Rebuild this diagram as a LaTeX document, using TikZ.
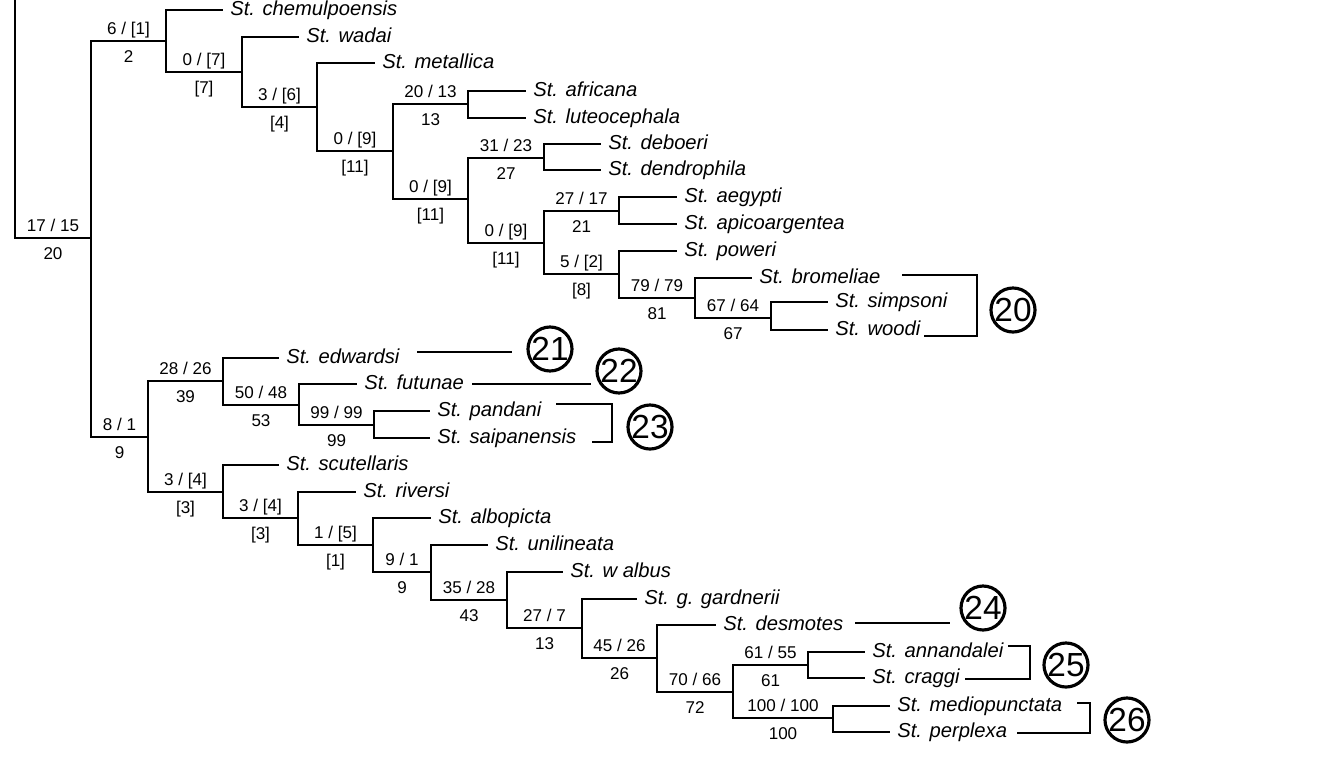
\documentclass[tikz,border=0pt]{standalone}
\usepackage{fontspec}
\setmainfont{Liberation Sans}
\usetikzlibrary{calc}

\tikzset{
  br/.style={line width=0.9pt},
  bar/.style={line width=1.4pt},
  sp/.style={anchor=west,inner xsep=1.4mm,inner ysep=0pt,
    font=\fontsize{11.5}{12}\selectfont\itshape,text height=8.2pt,text depth=2.4pt},
  lab/.style={anchor=base,inner sep=0pt,font=\fontsize{9.7}{11}\selectfont},
  clade/.style={circle,draw,line width=1.8pt,minimum size=8.8mm,inner sep=0pt,
    font=\fontsize{19}{20}\selectfont},
}
% support values on the branch from #1 into #2
\newcommand{\supp}[4]{%
  \path (#1 |- #2) -- coordinate[midway] (#2m) (#2);
  \node[lab] (#2u) at ([yshift=1.4mm]#2m) {#3};
  \node[lab] (#2d) at ([yshift=-4.2mm]#2m) {#4};}

\begin{document}
\begin{tikzpicture}[x=0.2mm,y=-0.2mm]
  \useasboundingbox (0,0) rectangle (1328,783);
  % --- internal nodes
  \coordinate (root) at (15,0);
  \coordinate (n1) at (91,238);
  \coordinate (nA) at (166,41);  \coordinate (nB) at (242,72);
  \coordinate (nC) at (317,107); \coordinate (nD) at (393,151);
  \coordinate (nE) at (468,104); \coordinate (nF) at (468,199);
  \coordinate (nG) at (544,158); \coordinate (nH) at (544,243);
  \coordinate (nI) at (619,211); \coordinate (nJ) at (619,274);
  \coordinate (nK) at (695,298); \coordinate (nL) at (771,318);
  \coordinate (nM) at (148,437); \coordinate (nN) at (223,381);
  \coordinate (nO) at (299,405); \coordinate (nP) at (374,425);
  \coordinate (nR) at (223,492); \coordinate (nS) at (298,518);
  \coordinate (nT) at (373,545); \coordinate (nU) at (431,572);
  \coordinate (nV) at (507,600); \coordinate (nW) at (582,628);
  \coordinate (nX) at (657,658); \coordinate (nY) at (733,692);
  \coordinate (nZ) at (808,665); \coordinate (nZZ) at (833,718);
  % --- species
  \node[sp] (chem) at (223,10) {St. chemulpoensis};
  \node[sp] (wada) at (299,37) {St. wadai};
  \node[sp] (meta) at (375,63) {St. metallica};
  \node[sp] (afri) at (526,91) {St. africana};
  \node[sp] (lute) at (526,118) {St. luteocephala};
  \node[sp] (debo) at (601,144) {St. deboeri};
  \node[sp] (dend) at (601,170) {St. dendrophila};
  \node[sp] (aegy) at (677,197) {St. aegypti};
  \node[sp] (apic) at (677,224) {St. apicoargentea};
  \node[sp] (powe) at (677,251) {St. poweri};
  \node[sp] (brom) at (752,278) {St. bromeliae};
  \node[sp] (simp) at (828,302) {St. simpsoni};
  \node[sp] (wood) at (828,330) {St. woodi};
  \node[sp] (edwa) at (279,358) {St. edwardsi};
  \node[sp] (futu) at (357,384) {St. futunae};
  \node[sp] (pand) at (430,411) {St. pandani};
  \node[sp] (saip) at (430,438) {St. saipanensis};
  \node[sp] (scut) at (279,465) {St. scutellaris};
  \node[sp] (rive) at (356,492) {St. riversi};
  \node[sp] (albo) at (431,518) {St. albopicta};
  \node[sp] (unil) at (488,545) {St. unilineata};
  \node[sp] (walb) at (563,572) {St. w albus};
  \node[sp] (gard) at (637,599) {St. g. gardnerii};
  \node[sp] (desm) at (716,625) {St. desmotes};
  \node[sp] (anna) at (865,652) {St. annandalei};
  \node[sp] (crag) at (865,678) {St. craggi};
  \node[sp] (medi) at (890,706) {St. mediopunctata};
  \node[sp] (perp) at (890,732) {St. perplexa};
  % --- branches
  \foreach \p/\c in {root/n1,n1/nA,n1/nM,
      nA/chem,nA/nB,nB/wada,nB/nC,nC/meta,nC/nD,nD/nE,nD/nF,nE/afri,nE/lute,
      nF/nG,nF/nH,nG/debo,nG/dend,nH/nI,nH/nJ,nI/aegy,nI/apic,nJ/powe,nJ/nK,
      nK/brom,nK/nL,nL/simp,nL/wood,
      nM/nN,nM/nR,nN/edwa,nN/nO,nO/futu,nO/nP,nP/pand,nP/saip,
      nR/scut,nR/nS,nS/rive,nS/nT,nT/albo,nT/nU,nU/unil,nU/nV,nV/walb,nV/nW,
      nW/gard,nW/nX,nX/desm,nX/nY,nY/nZ,nY/nZZ,nZ/anna,nZ/crag,nZZ/medi,nZZ/perp}
    \draw[br] (\p) |- (\c);
  % --- support values
  \supp{root}{n1}{17 / 15}{20}
  \supp{n1}{nA}{6 / [1]}{2}
  \supp{nA}{nB}{0 / [7]}{[7]}
  \supp{nB}{nC}{3 / [6]}{[4]}
  \supp{nC}{nD}{0 / [9]}{[11]}
  \supp{nD}{nE}{20 / 13}{13}
  \supp{nD}{nF}{0 / [9]}{[11]}
  \supp{nF}{nG}{31 / 23}{27}
  \supp{nF}{nH}{0 / [9]}{[11]}
  \supp{nH}{nI}{27 / 17}{21}
  \supp{nH}{nJ}{5 / [2]}{[8]}
  \supp{nJ}{nK}{79 / 79}{81}
  \supp{nK}{nL}{67 / 64}{67}
  \supp{n1}{nM}{8 / 1}{9}
  \supp{nM}{nN}{28 / 26}{39}
  \supp{nN}{nO}{50 / 48}{53}
  \supp{nO}{nP}{99 / 99}{99}
  \supp{nM}{nR}{3 / [4]}{[3]}
  \supp{nR}{nS}{3 / [4]}{[3]}
  \supp{nS}{nT}{1 / [5]}{[1]}
  \supp{nT}{nU}{9 / 1}{9}
  \supp{nU}{nV}{35 / 28}{43}
  \supp{nV}{nW}{27 / 7}{13}
  \supp{nW}{nX}{45 / 26}{26}
  \supp{nX}{nY}{70 / 66}{72}
  \supp{nY}{nZ}{61 / 55}{61}
  \supp{nY}{nZZ}{100 / 100}{100}
  % --- clade markers
  \foreach \n/\x/\y in {20/1013/310,21/550/349,22/619/371,23/650/427,
      24/983/608,25/1066/665,26/1127/720}
    \node[clade] (c\n) at (\x,\y) {\n};
  \coordinate (m20a) at (902,275); \coordinate (m20b) at (924,336);
  \coordinate (m21a) at (417,352); \coordinate (m21b) at (512,352);
  \coordinate (m22a) at (472,384); \coordinate (m22b) at (591,384);
  \coordinate (m23a) at (556,404); \coordinate (m23b) at (592,442);
  \coordinate (m24a) at (855,623); \coordinate (m24b) at (950,623);
  \coordinate (m25a) at (1008,646); \coordinate (m25b) at (965,679);
  \coordinate (m26a) at (1077,703); \coordinate (m26b) at (1017,733);
  \draw[bar] (m20a) -- ++(75,0) |- (m20b);
  \draw[bar] (m21a) -- (m21b);
  \draw[bar] (m22a) -- (m22b);
  \draw[bar] (m23a) -- ++(56,0) |- (m23b);
  \draw[bar] (m24a) -- (m24b);
  \draw[bar] (m25a) -- ++(22,0) |- (m25b);
  \draw[bar] (m26a) -- ++(13,0) |- (m26b);
\end{tikzpicture}
\end{document}
